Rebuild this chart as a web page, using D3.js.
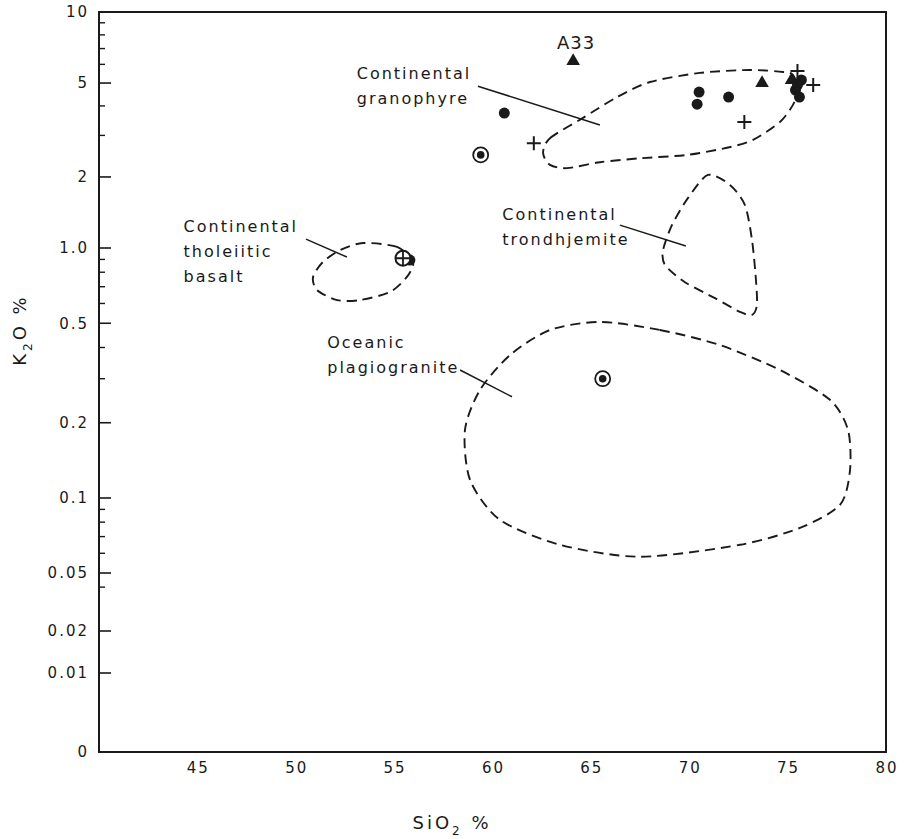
<!DOCTYPE html>
<html>
<head>
<meta charset="utf-8">
<script src="https://cdn.jsdelivr.net/npm/d3@7"></script>
<style>
  html, body { margin: 0; padding: 0; background: #fff; }
  svg { display: block; }
  text { font-family: "DejaVu Sans", "Liberation Sans", sans-serif; fill: #1a1a1a; }
</style>
</head>
<body>
<svg id="chart" width="908" height="839"></svg>
<script>
// ---------------- DATA ----------------
const xTicks = [45, 50, 55, 60, 65, 70, 75, 80];
const yTicks = [10, 5, 2, 1.0, 0.5, 0.2, 0.1, 0.05, 0.02, 0.01];
const yTickLabels = ["10", "5", "2", "1.0", "0.5", "0.2", "0.1", "0.05", "0.02", "0.01"];
const yMinorTicks = [9, 8, 7, 6, 4, 3, 0.9, 0.8, 0.7, 0.6, 0.4, 0.3, 0.09, 0.08, 0.07, 0.06, 0.04];

// filled circles
const dotsSi = [60.6, 70.5, 70.4, 72.0, 75.7, 75.4, 75.6, 75.5, 55.8];
const dotsK  = [3.73, 4.58, 4.07, 4.36, 5.15, 4.67, 4.36, 4.9, 0.895];
// triangles
const triSi = [64.1, 73.7, 75.2];
const triK  = [6.2, 5.0, 5.15];
const triNames = ["A33", "", ""];
// crosses
const crossSi = [62.1, 72.8, 75.5, 76.3];
const crossK  = [2.78, 3.42, 5.62, 4.91];
// circled dots
const ringSi = [59.4, 65.6];
const ringK  = [2.48, 0.30];
// circled cross
const ringCrossSi = [55.45];
const ringCrossK  = [0.91];

// field outlines (SiO2, K2O)
const granophyreSi = [62.57, 62.92, 64.60, 66.33, 68.0, 70.54, 73.09, 74.77, 75.27, 75.53, 75.27, 74.61, 73.24, 71.92, 69.89, 67.50, 65.46, 63.79, 62.92];
const granophyreK  = [2.53, 2.92, 3.56, 4.36, 5.05, 5.52, 5.68, 5.57, 5.41, 4.67, 4.04, 3.42, 2.87, 2.66, 2.48, 2.40, 2.31, 2.18, 2.25];
const basaltSi = [53.42, 55.15, 55.96, 55.65, 54.79, 53.27, 52.10, 51.08, 50.88, 51.38, 52.25];
const basaltK  = [1.05, 1.01, 0.879, 0.766, 0.667, 0.619, 0.619, 0.679, 0.766, 0.879, 0.98];
const trondhSi = [70.95, 72.07, 72.83, 73.19, 73.39, 73.44, 73.19, 72.58, 71.31, 69.78, 68.77, 68.67, 69.12, 69.94];
const trondhK  = [2.04, 1.85, 1.52, 1.08, 0.745, 0.592, 0.54, 0.555, 0.63, 0.73, 0.855, 0.98, 1.25, 1.63];
const plagioSi = [65.46, 68.51, 71.56, 74.61, 77.15, 78.07, 78.17, 77.66, 75.63, 72.58, 67.50, 63.43, 60.38, 58.86, 58.6, 59.36, 60.89, 62.92];
const plagioK  = [0.506, 0.47, 0.409, 0.325, 0.247, 0.187, 0.129, 0.0938, 0.0759, 0.0649, 0.0581, 0.0649, 0.0817, 0.118, 0.187, 0.27, 0.373, 0.47];

// field labels and leader lines
const fieldNames = [["Continental", "granophyre"], ["Continental", "tholeiitic", "basalt"], ["Continental", "trondhjemite"], ["Oceanic", "plagiogranite"]];
const labelSi = [53.1, 44.3, 60.5, 51.6];
const labelK  = [5.2, 1.17, 1.315, 0.398];
const leaderSi = [[59.26, 65.46], [50.52, 52.6], [66.48, 69.83], [58.35, 60.99]];
const leaderK  = [[4.85, 3.32], [1.09, 0.92], [1.25, 1.02], [0.325, 0.254]];

// ---------------- LAYOUT ----------------
const svg = d3.select("#chart");
const L = 99, R = 886, T = 12, B = 752;
const H = B - T;
// hand-drawn logarithmic axis: anchor values and fractional positions
const yAnchorVals = [10, 1, 0.1, 0.05, 0.02, 0.01];
const yAnchorFrac = [0, 236 / 740, 486 / 740, 561 / 740, 619 / 740, 661 / 740];

const x = d3.scaleLinear().domain([40, 80]).range([L, R]);
const yLog = d3.scaleLinear()
  .domain(yAnchorVals.map(Math.log10))
  .range(yAnchorFrac.map(f => T + f * H));
const y = v => (v <= 0 ? B : yLog(Math.log10(v)));

const ink = "#1a1a1a";

// frame
svg.append("rect").attr("x", L).attr("y", T).attr("width", R - L).attr("height", B - T)
  .attr("fill", "none").attr("stroke", ink).attr("stroke-width", 2);

// y ticks (inward)
const gy = svg.append("g");
gy.selectAll("line.maj").data(yTicks).join("line")
  .attr("x1", L).attr("x2", L + 12).attr("y1", d => y(d)).attr("y2", d => y(d))
  .attr("stroke", ink).attr("stroke-width", 1.6);
gy.selectAll("line.min").data(yMinorTicks).join("line")
  .attr("x1", L).attr("x2", L + 6).attr("y1", d => y(d)).attr("y2", d => y(d))
  .attr("stroke", ink).attr("stroke-width", 1.4);
gy.selectAll("text").data(yTicks).join("text")
  .attr("x", L - 10).attr("y", d => y(d)).attr("dy", "0.36em")
  .attr("text-anchor", "end").attr("font-size", 15).attr("letter-spacing", 2)
  .text((d, i) => yTickLabels[i]);
svg.append("text").attr("x", L - 12).attr("y", B).attr("dy", "0.36em")
  .attr("text-anchor", "end").attr("font-size", 15).text("0");

// x tick labels
svg.append("g").selectAll("text").data(xTicks).join("text")
  .attr("x", d => x(d) + 1).attr("y", B + 21)
  .attr("text-anchor", "middle").attr("font-size", 15).attr("letter-spacing", 2)
  .text(d => d);

// axis titles
const xt = svg.append("text").attr("x", 452).attr("y", 829).attr("text-anchor", "middle")
  .attr("font-size", 18).attr("letter-spacing", 3);
xt.append("tspan").text("SiO");
xt.append("tspan").attr("font-size", 12).attr("dy", 6).text("2");
xt.append("tspan").attr("dy", -6).text(" %");

const yt = svg.append("text").attr("transform", "translate(26,330) rotate(-90)")
  .attr("text-anchor", "middle").attr("font-size", 18).attr("letter-spacing", 3);
yt.append("tspan").text("K");
yt.append("tspan").attr("font-size", 12).attr("dy", 6).text("2");
yt.append("tspan").attr("dy", -6).text("O  %");

// field outlines
const outline = d3.line().x(d => x(d[0])).y(d => y(d[1])).curve(d3.curveCardinalClosed.tension(0.2));
const fields = [[granophyreSi, granophyreK], [basaltSi, basaltK], [trondhSi, trondhK], [plagioSi, plagioK]];
svg.append("g").selectAll("path").data(fields).join("path")
  .attr("d", f => outline(f[0].map((s, i) => [s, f[1][i]])))
  .attr("fill", "none").attr("stroke", ink).attr("stroke-width", 1.9)
  .attr("stroke-dasharray", "10,6");

// leader lines
svg.append("g").selectAll("line").data(leaderSi).join("line")
  .attr("x1", (d, i) => x(d[0])).attr("y1", (d, i) => y(leaderK[i][0]))
  .attr("x2", (d, i) => x(d[1])).attr("y2", (d, i) => y(leaderK[i][1]))
  .attr("stroke", ink).attr("stroke-width", 1.5);

// field labels
const lab = svg.append("g").selectAll("text").data(fieldNames).join("text")
  .attr("x", (d, i) => x(labelSi[i])).attr("y", (d, i) => y(labelK[i]))
  .attr("text-anchor", "start")
  .attr("font-size", 16).attr("letter-spacing", 2);
lab.each(function (lines, i) {
  d3.select(this).selectAll("tspan").data(lines).join("tspan")
    .attr("x", x(labelSi[i]) + (i === 0 && lines.length === 2 ? 0 : 0)).attr("dy", (d, j) => j === 0 ? 0 : 25).text(d => d);
});

// markers
const pts = (si, k) => si.map((s, i) => ({ s, k: k[i], i }));
svg.append("g").selectAll("circle").data(pts(dotsSi, dotsK)).join("circle")
  .attr("cx", d => x(d.s)).attr("cy", d => y(d.k)).attr("r", 5.5).attr("fill", ink);

const triSym = d3.symbol().type(d3.symbolTriangle).size(80);
const tg = svg.append("g");
tg.selectAll("path").data(pts(triSi, triK)).join("path")
  .attr("transform", d => `translate(${x(d.s)},${y(d.k)})`).attr("d", triSym()).attr("fill", ink);
tg.selectAll("text").data(pts(triSi, triK).filter(d => triNames[d.i])).join("text")
  .attr("x", d => x(d.s) + 3).attr("y", d => y(d.k) - 12)
  .attr("text-anchor", "middle").attr("font-size", 18).attr("letter-spacing", 1)
  .text(d => triNames[d.i]);

const cg = svg.append("g");
cg.selectAll("path").data(pts(crossSi, crossK)).join("path")
  .attr("d", d => `M${x(d.s) - 7},${y(d.k)}H${x(d.s) + 7}M${x(d.s)},${y(d.k) - 7}V${y(d.k) + 7}`)
  .attr("stroke", ink).attr("stroke-width", 2).attr("fill", "none");

const rg = svg.append("g");
rg.selectAll("circle.ring").data(pts(ringSi, ringK)).join("circle")
  .attr("cx", d => x(d.s)).attr("cy", d => y(d.k)).attr("r", 7.5)
  .attr("fill", "none").attr("stroke", ink).attr("stroke-width", 1.8);
rg.selectAll("circle.dot").data(pts(ringSi, ringK)).join("circle")
  .attr("cx", d => x(d.s)).attr("cy", d => y(d.k)).attr("r", 3.8).attr("fill", ink);

const rc = svg.append("g");
rc.selectAll("circle").data(pts(ringCrossSi, ringCrossK)).join("circle")
  .attr("cx", d => x(d.s)).attr("cy", d => y(d.k)).attr("r", 7.5)
  .attr("fill", "#fff").attr("stroke", ink).attr("stroke-width", 2);
rc.selectAll("path").data(pts(ringCrossSi, ringCrossK)).join("path")
  .attr("d", d => `M${x(d.s) - 7.5},${y(d.k)}H${x(d.s) + 7.5}M${x(d.s)},${y(d.k) - 7.5}V${y(d.k) + 7.5}`)
  .attr("stroke", ink).attr("stroke-width", 1.8);
</script>
</body>
</html>
